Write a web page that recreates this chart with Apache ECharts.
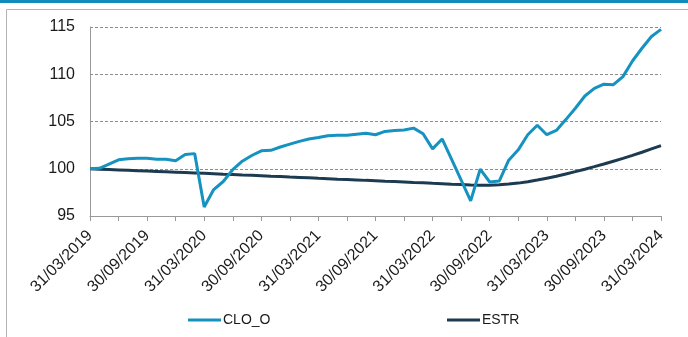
<!DOCTYPE html>
<html>
<head>
<meta charset="utf-8">
<script src="https://cdn.jsdelivr.net/npm/echarts@6/dist/echarts.min.js"></script>
<style>
  html, body { margin: 0; padding: 0; background: #fff; }
  #chart { width: 688px; height: 337px; }
</style>
</head>
<body>
<div id="chart"></div>
<script>
// Month-end dates, 31/03/2019 .. 31/03/2024
const dates = [
  '31/03/2019','30/04/2019','31/05/2019','30/06/2019','31/07/2019','31/08/2019',
  '30/09/2019','31/10/2019','30/11/2019','31/12/2019','31/01/2020','29/02/2020',
  '31/03/2020','30/04/2020','31/05/2020','30/06/2020','31/07/2020','31/08/2020',
  '30/09/2020','31/10/2020','30/11/2020','31/12/2020','31/01/2021','28/02/2021',
  '31/03/2021','30/04/2021','31/05/2021','30/06/2021','31/07/2021','31/08/2021',
  '30/09/2021','31/10/2021','30/11/2021','31/12/2021','31/01/2022','28/02/2022',
  '31/03/2022','30/04/2022','31/05/2022','30/06/2022','31/07/2022','31/08/2022',
  '30/09/2022','31/10/2022','30/11/2022','31/12/2022','31/01/2023','28/02/2023',
  '31/03/2023','30/04/2023','31/05/2023','30/06/2023','31/07/2023','31/08/2023',
  '30/09/2023','31/10/2023','30/11/2023','31/12/2023','31/01/2024','29/02/2024',
  '31/03/2024'
];

// CLO_O index (base 100)
const cloO = [
  100.00, 100.05, 100.50, 100.95, 101.05, 101.10,
  101.10, 101.00, 101.00, 100.85, 101.50, 101.60,
  95.95, 97.80, 98.65, 99.90, 100.80, 101.40,
  101.90, 101.95, 102.30, 102.60, 102.90, 103.15,
  103.30, 103.50, 103.55, 103.55, 103.65, 103.75,
  103.60, 103.95, 104.05, 104.10, 104.30, 103.70,
  102.10, 103.15, 101.00, 98.80, 96.60, 99.95,
  98.60, 98.70, 100.90, 102.00, 103.60, 104.60,
  103.60, 104.05, 105.20, 106.40, 107.70, 108.50,
  108.95, 108.90, 109.75, 111.40, 112.75, 114.00,
  114.75
];

// ESTR index (base 100)
const estr = [
  100.00, 99.96, 99.92, 99.88, 99.84, 99.80,
  99.76, 99.72, 99.68, 99.64, 99.60, 99.56,
  99.52, 99.48, 99.43, 99.39, 99.34, 99.30,
  99.26, 99.21, 99.17, 99.12, 99.08, 99.04,
  98.99, 98.95, 98.90, 98.86, 98.82, 98.77,
  98.73, 98.68, 98.64, 98.60, 98.55, 98.51,
  98.46, 98.42, 98.37, 98.33, 98.29, 98.26,
  98.25, 98.30, 98.38, 98.48, 98.62, 98.80,
  99.00, 99.20, 99.45, 99.70, 99.95, 100.22,
  100.50, 100.80, 101.10, 101.42, 101.75, 102.10,
  102.45
];

const yTicks = [95, 100, 105, 110, 115];

const chart = echarts.init(document.getElementById('chart'), null, { renderer: 'canvas' });

const font = 'Liberation Sans, Arial, sans-serif';
const lineIcon = 'path://M0,5 L33,5 L33,8 L0,8 Z';

chart.setOption({
  animation: false,
  backgroundColor: '#ffffff',
  graphic: [
    { type: 'rect', shape: { x: 0, y: 0, width: 688, height: 3 }, style: { fill: '#0f8cba' }, silent: true },
    { type: 'rect', shape: { x: 6.5, y: 9.5, width: 720, height: 400 }, style: { fill: 'none', stroke: '#b4b4b4', lineWidth: 1 }, silent: true }
  ],
  grid: { left: 90, right: 27, top: 27, bottom: 121, containLabel: false },
  legend: [
    {
      data: ['CLO_O'], left: 188, top: 313, padding: 0, itemWidth: 33, itemHeight: 13, itemGap: 0,
      icon: lineIcon,
      textStyle: { fontFamily: font, fontSize: 14, color: '#1a1a1a', padding: [0, 0, 0, -3] }
    },
    {
      data: ['ESTR'], left: 447, top: 313, padding: 0, itemWidth: 33, itemHeight: 13, itemGap: 0,
      icon: lineIcon,
      textStyle: { fontFamily: font, fontSize: 14, color: '#1a1a1a', padding: [0, 0, 0, -3] }
    }
  ],
  xAxis: {
    type: 'category',
    data: dates,
    boundaryGap: false,
    axisLine: { show: true, lineStyle: { color: '#999999', width: 1 } },
    axisTick: { show: true, interval: 2, length: 5, lineStyle: { color: '#999999' } },
    axisLabel: {
      interval: 5, rotate: 45, margin: 17,
      fontFamily: font, fontSize: 16, color: '#1a1a1a'
    },
    splitLine: { show: false }
  },
  yAxis: {
    type: 'value',
    min: yTicks[0], max: yTicks[yTicks.length - 1], interval: 5,
    axisLine: { show: true, lineStyle: { color: '#999999', width: 1 } },
    axisTick: { show: false },
    axisLabel: { fontFamily: font, fontSize: 16, color: '#1a1a1a', margin: 15 },
    splitLine: { show: true, lineStyle: { color: '#8c8c8c', type: [3, 2], width: 1 } }
  },
  series: [
    {
      name: 'CLO_O', type: 'line', data: cloO, showSymbol: false,
      lineStyle: { color: '#1592bf', width: 3 }, itemStyle: { color: '#1592bf' }, z: 3
    },
    {
      name: 'ESTR', type: 'line', data: estr, showSymbol: false,
      lineStyle: { color: '#1d3b50', width: 3 }, itemStyle: { color: '#1d3b50' }, z: 2
    }
  ]
});
</script>
</body>
</html>
